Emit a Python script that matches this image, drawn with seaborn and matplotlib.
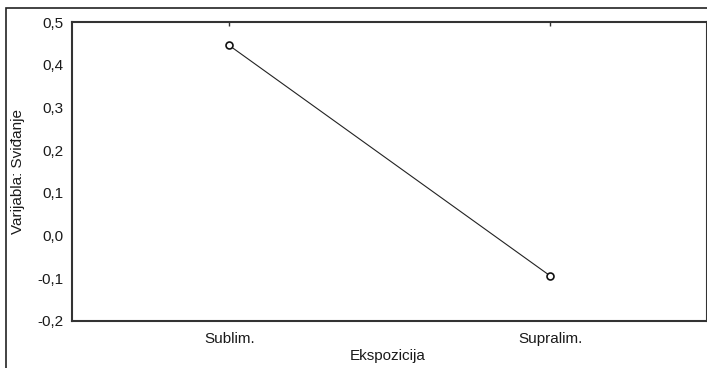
import matplotlib
matplotlib.use("Agg")
import matplotlib.pyplot as plt
import matplotlib.ticker as mticker
from matplotlib.patches import Rectangle
import seaborn as sns
import pandas as pd

categories = ["Sublim.", "Supralim."]
values = [0.445, -0.094]
y_ticks = [-0.2, -0.1, 0.0, 0.1, 0.2, 0.3, 0.4, 0.5]
x_label = "Ekspozicija"
y_label = "Varijabla: Sviđanje"

sns.set_style("white")
plt.rcParams["font.family"] = ["Liberation Sans", "DejaVu Sans"]

W, H = 707, 368
FS = 11
fig = plt.figure(figsize=(W / 100, H / 100), dpi=100)
ax = fig.add_axes([72 / W, 1 - 321 / H, (W - 72) / W, (321 - 22) / H])

df = pd.DataFrame({"cat": categories, "val": values})
sns.pointplot(data=df, x="cat", y="val", ax=ax, color="#222222", errorbar=None,
              markers="o", linestyles="-", markersize=5,
              markerfacecolor="white", markeredgecolor="#111111",
              markeredgewidth=1.2, linewidth=0.8)

ax.set_xlim(-0.4905, 1.4896)
ax.set_ylim(-0.2, 0.5)
ax.set_yticks(y_ticks)
ax.yaxis.set_major_formatter(mticker.FuncFormatter(lambda v, p: f"{v:.1f}".replace(".", ",").replace("-0,0", "0,0")))

for s in ax.spines.values():
    s.set_color("#333333")
    s.set_linewidth(1.5)

ax.tick_params(axis="y", direction="in", length=3, width=1, color="#333333",
               labelsize=FS, pad=6, labelcolor="#1a1a1a")
ax.tick_params(axis="x", direction="in", length=3, width=1, color="#333333",
               bottom=False, top=True, labelbottom=True, labeltop=False,
               labelsize=FS, pad=8, labelcolor="#1a1a1a")

ax.set_xlabel(x_label, fontsize=FS, color="#1a1a1a")
ax.set_ylabel(y_label, fontsize=FS, color="#1a1a1a")
ax.yaxis.label.set_verticalalignment("center")
ax.xaxis.label.set_verticalalignment("center")
ax.yaxis.set_label_coords(-(72 - 18) / (W - 72), 0.5)
ax.xaxis.set_label_coords((388 - 72) / (W - 72), -(356 - 321) / (321 - 22))

frame = Rectangle((6 / W, -0.5), 2.0, 1.5 - 8 / H, transform=fig.transFigure,
                  fill=False, edgecolor="#222222", linewidth=1.2)
fig.patches.append(frame)

fig.savefig("out.png", dpi=100, facecolor="white")
